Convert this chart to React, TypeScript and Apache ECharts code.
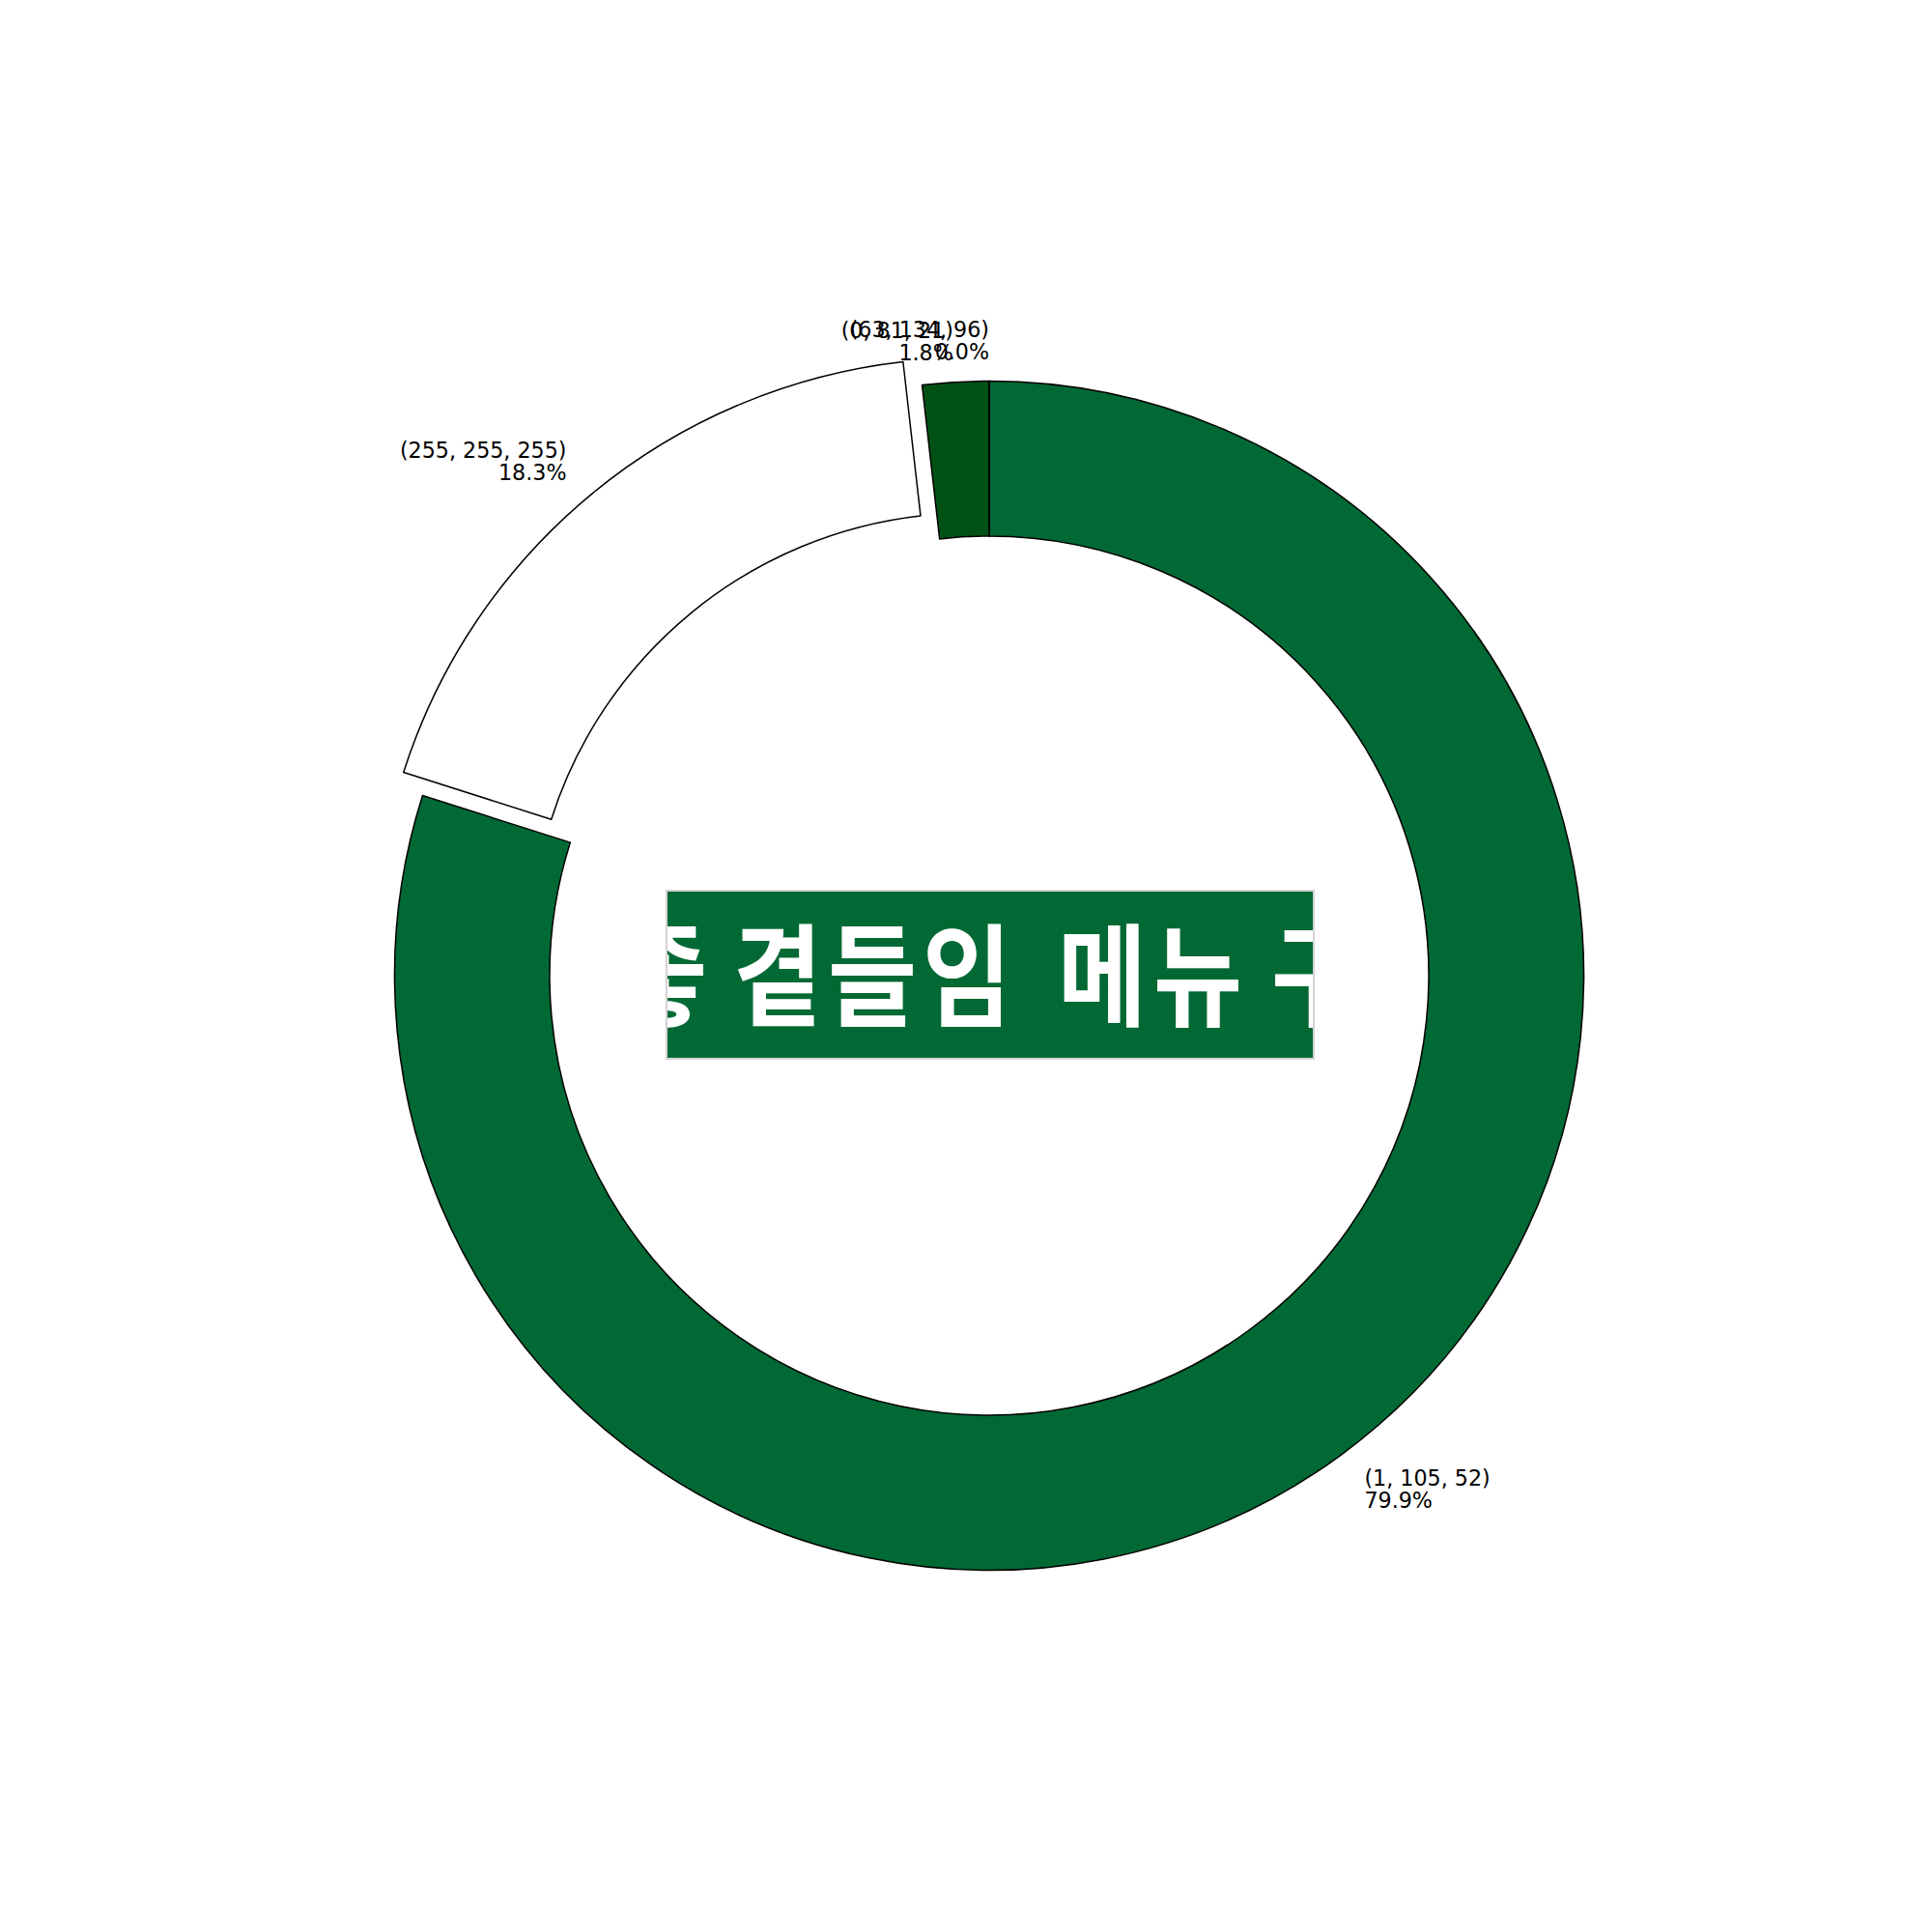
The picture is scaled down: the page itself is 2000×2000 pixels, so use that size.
import React, { useEffect, useRef } from "react";
import * as echarts from "echarts";

// ---- data ----
const CATEGORIES = ["(1, 105, 52)", "(255, 255, 255)", "(0, 81, 21)", "(63, 134, 96)"];
const VALUES = [79.9, 18.3, 1.8, 0.0];
const COLORS = ["#016934", "#ffffff", "#005115", "#3f8660"];
const EXPLODED = [false, true, false, false];
const CENTER_WORDS = ["좋", "곁", "들", "임", "메", "뉴", "구"];

// ---- layout ----
const CX = 1024;
const CY = 1010;
const R_OUT = 615.5;
const R_IN = 455;
const EXPLODE_PX = 31;
const LABEL_DIST = 658;
const CHAR_X = [686, 805, 903, 1001, 1141, 1240, 1362];

export default function App() {
  const ref = useRef<HTMLDivElement>(null);

  useEffect(() => {
    if (!ref.current) return;
    const chart = echarts.init(ref.current, undefined, { renderer: "svg" });
    const total = VALUES.reduce((a, b) => a + b, 0);

    // label positions derived from the data (matplotlib-style placement)
    const labels: any[] = [];
    let start = 90;
    VALUES.forEach((v, i) => {
      const span = (v / total) * 360;
      const mid = ((start - span / 2) * Math.PI) / 180;
      start -= span;
      const d = LABEL_DIST + (EXPLODED[i] ? EXPLODE_PX : 0);
      const c = Math.cos(mid);
      const s = Math.sin(mid);
      labels.push({
        type: "text",
        x: CX + d * c,
        y: CY - d * s,
        z: 10,
        style: {
          text: `${CATEGORIES[i]}\n${((v / total) * 100).toFixed(1)}%`,
          font: '22.2px "DejaVu Sans"',
          fill: "#000",
          align: c > 1e-9 ? "left" : "right",
          verticalAlign: "middle",
          lineHeight: 23,
        },
      });
    });

    const charEls = CENTER_WORDS.map((ch, i) => ({
      type: "text",
      x: CHAR_X[i],
      y: 0,
      z: 6,
      style: {
        text: ch,
        font: 'bold 100px "Noto Sans CJK KR"',
        fill: "#ffffff",
        align: "center",
        verticalAlign: "middle",
      },
    }));

    chart.setOption({
      animation: false,
      backgroundColor: "#ffffff",
      series: [
        {
          type: "pie",
          center: [CX, CY],
          radius: [R_IN, R_OUT],
          startAngle: 90,
          clockwise: true,
          selectedMode: "multiple",
          selectedOffset: EXPLODE_PX,
          avoidLabelOverlap: false,
          label: { show: false },
          labelLine: { show: false },
          emphasis: { disabled: true },
          itemStyle: { borderColor: "#000", borderWidth: 1.5 },
          data: VALUES.map((v, i) => ({
            value: v,
            name: CATEGORIES[i],
            selected: EXPLODED[i],
            itemStyle: { color: COLORS[i] },
            select: { itemStyle: { color: COLORS[i], borderColor: "#000", borderWidth: 1.5 } },
          })),
        },
      ],
      graphic: [
        {
          type: "rect",
          shape: { x: 690, y: 922, width: 670, height: 174 },
          style: { fill: "#036934" },
          z: 5,
        },
        {
          type: "group",
          x: 0,
          y: 1003,
          scaleY: 1.15,
          z: 6,
          children: charEls,
        },
        {
          type: "rect",
          shape: { x: 590, y: 924, width: 99, height: 170 },
          style: { fill: "#ffffff" },
          z: 7,
        },
        {
          type: "rect",
          shape: { x: 1361, y: 924, width: 99, height: 170 },
          style: { fill: "#ffffff" },
          z: 7,
        },
        {
          type: "rect",
          shape: { x: 690, y: 922, width: 670, height: 174 },
          style: { fill: "none", stroke: "#d4d4d4", lineWidth: 2 },
          z: 8,
        },
        ...labels,
      ],
    });

    return () => chart.dispose();
  }, []);

  return (
    <div
      ref={ref}
      style={{ position: "absolute", left: 0, top: 0, width: 2000, height: 2000 }}
    />
  );
}
